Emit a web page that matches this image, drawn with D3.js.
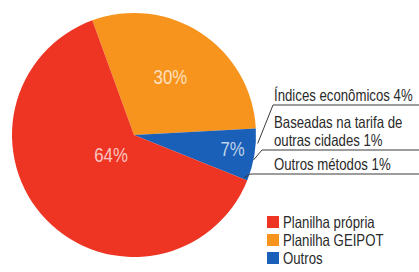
<!DOCTYPE html>
<html>
<head>
<meta charset="utf-8">
<script src="https://cdn.jsdelivr.net/npm/d3@7"></script>
<style>
  body { margin: 0; background: #fff; }
  text { font-family: "Liberation Sans", Arial, sans-serif; }
</style>
</head>
<body>
<svg id="chart"></svg>
<script>
let width = 419, height = 272;

// slices, in drawing order (clockwise from the top)
let categories = ["Planilha GEIPOT", "Outros", "Planilha própria"],
    values = [30, 7, 64],
    sliceLabels = ["30%", "7%", "64%"],
    colors = ["#f7941d", "#1a5fb8", "#ee3524"];

// legend
let legendNames = ["Planilha própria", "Planilha GEIPOT", "Outros"],
    legendColors = ["#ee3524", "#f7941d", "#1a5fb8"];

// breakdown of "Outros"
let otherLines = [["Índices econômicos 4%"], ["Baseadas na tarifa de", "outras cidades 1%"], ["Outros métodos 1%"]];

let cx = 134, cy = 135, radius = 122;
let labelRadius = [66, 100, 32];
let squeeze = 0.8;   // the print uses a condensed face

let svg = d3.select("#chart")
  .attr("width", width)
  .attr("height", height);

let pie = d3.pie()
  .sort(null)
  .value(function(d) { return d; })
  .startAngle(-20 * Math.PI / 180)
  .endAngle(340 * Math.PI / 180);

let arcs = pie(values);

let arc = d3.arc().innerRadius(0).outerRadius(radius);

let g = svg.append("g")
  .attr("transform", "translate(" + cx + "," + cy + ")");

g.selectAll("path.slice")
  .data(arcs)
  .enter().append("path")
    .attr("class", "slice")
    .attr("d", arc)
    .attr("fill", function(d, i) { return colors[i]; });

g.selectAll("text.pct")
  .data(arcs)
  .enter().append("text")
    .attr("class", "pct")
    .attr("transform", function(d, i) {
      let a = d3.arc().innerRadius(labelRadius[i]).outerRadius(labelRadius[i]);
      let c = a.centroid(d);
      return "translate(" + c[0] + "," + (c[1] - 3) + ") scale(" + squeeze + ",1)";
    })
    .attr("text-anchor", "middle")
    .attr("dy", "0.35em")
    .style("font-size", "21px")
    .style("fill", "#fff")
    .style("fill-opacity", 0.72)
    .text(function(d, i) { return sliceLabels[i]; });

// leader lines from the blue slice to the breakdown labels
let blue = arcs[1];
let edge = function(angleFrac, r) {
  let a = blue.startAngle + (blue.endAngle - blue.startAngle) * angleFrac;
  return [cx + r * Math.sin(a), cy - r * Math.cos(a)];
};

let textX = 274;
let rowY = [105, 150, 174];   // y of each underline
let anchors = [edge(0.28, 124), edge(0.6, 122), edge(0.98, 118)];
let elbowX = [273, 262, 250];

let leader = d3.line();
otherLines.forEach(function(lines, i) {
  svg.append("path")
    .attr("d", leader([anchors[i], [elbowX[i], rowY[i]], [width, rowY[i]]]))
    .attr("fill", "none")
    .attr("stroke", "#3a3a3a")
    .attr("stroke-width", 1);

  lines.forEach(function(t, j) {
    let y = rowY[i] - 4 - (lines.length - 1 - j) * 18;
    svg.append("text")
      .attr("transform", "translate(" + textX + "," + y + ") scale(" + squeeze + ",1)")
      .style("font-size", "16.5px")
      .style("fill", "#2a2a2a")
      .text(t);
  });
});

// legend
let legend = svg.append("g").attr("transform", "translate(267,216)");
legendNames.forEach(function(name, i) {
  let row = legend.append("g").attr("transform", "translate(0," + i * 18 + ")");
  row.append("rect")
    .attr("width", 12).attr("height", 12)
    .attr("fill", legendColors[i]);
  row.append("text")
    .attr("transform", "translate(16,12) scale(" + squeeze + ",1)")
    .style("font-size", "16.5px")
    .style("fill", "#2a2a2a")
    .text(name);
});
</script>
</body>
</html>
